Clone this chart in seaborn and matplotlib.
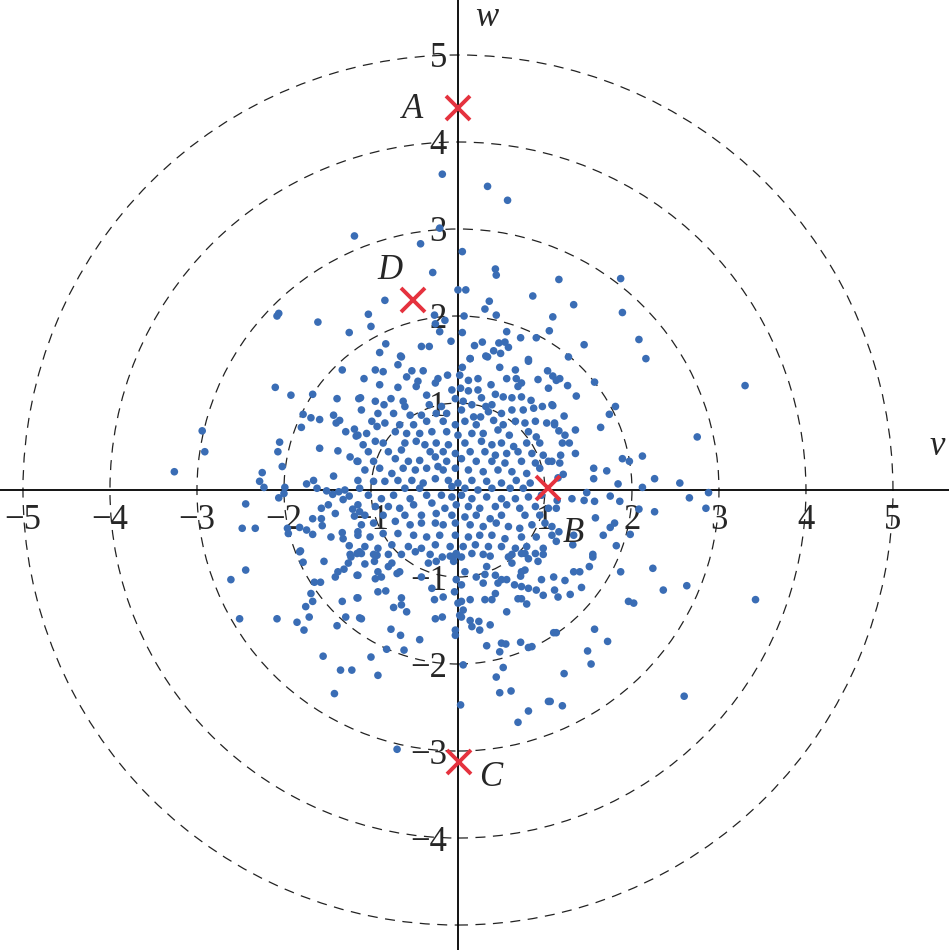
import pandas as pd
import matplotlib
matplotlib.use('Agg')
import matplotlib.pyplot as plt
from matplotlib.patches import Circle
import seaborn as sns

# values, grouped by region (v, w)
pts_top = [
    (-1.19, 2.92), (-2.08, 2.00), (-2.06, 2.03), (-1.61, 1.93), (-1.25, 1.81),
    (-0.18, 3.63), (0.34, 3.49), (0.57, 3.33), (-0.21, 3.01), (-0.43, 2.83),
    (0.05, 2.74), (-0.29, 2.50), (0.43, 2.54), (0.44, 2.47), (0.00, 2.30),
    (0.09, 2.30), (-0.84, 2.18), (0.86, 2.23), (0.36, 2.17), (0.31, 2.08),
    (0.44, 2.01), (-1.03, 2.02), (-0.27, 2.01), (0.07, 2.00), (-1.00, 1.88),
    (-0.26, 1.91), (-0.15, 1.95), (-0.21, 1.82), (0.05, 1.81), (1.09, 1.99),
    (0.56, 1.82), (1.05, 1.83), (-0.08, 1.71), (-0.83, 1.68), (-0.42, 1.65),
    (-0.33, 1.65), (0.19, 1.66), (0.28, 1.70), (0.47, 1.69), (0.54, 1.70),
    (0.58, 1.64), (0.72, 1.75), (0.90, 1.75), (-0.90, 1.58), (-0.66, 1.54),
    (0.41, 1.60), (0.49, 1.57), (0.32, 1.54), (0.14, 1.51), (0.81, 1.50),
    (1.16, 2.42), (1.87, 2.43), (1.33, 2.13), (1.89, 2.04), (1.45, 1.67),
    (2.08, 1.73), (1.27, 1.53), (2.16, 1.51),
]

pts_left = [
    (-1.33, 1.38), (-2.10, 1.18), (-1.92, 1.09), (-1.67, 1.10), (-1.39, 1.05),
    (-1.14, 1.05), (-1.78, 0.87), (-1.69, 0.83), (-1.59, 0.81), (-1.43, 0.86),
    (-1.36, 0.80), (-1.40, 0.77), (-1.80, 0.72), (-1.29, 0.67), (-1.19, 0.70),
    (-1.17, 0.62), (-2.94, 0.68), (-2.91, 0.44), (-2.05, 0.55), (-2.07, 0.44),
    (-1.59, 0.48), (-1.38, 0.45), (-1.24, 0.38), (-1.16, 0.33), (-3.26, 0.21),
    (-2.02, 0.27), (-2.25, 0.20), (-2.28, 0.10), (-2.23, 0.03), (-1.43, 0.16),
    (-1.74, 0.07), (-1.66, 0.11), (-1.62, 0.02), (-1.99, 0.03), (-2.00, -0.04),
    (-2.06, -0.09), (-1.51, -0.01), (-1.44, -0.05), (-1.37, -0.02), (-1.30, 0.00),
    (-1.32, -0.11), (-1.25, -0.07), (-2.44, -0.16), (-1.57, -0.21), (-1.49, -0.17),
    (-1.41, -0.27), (-1.21, -0.22), (-1.19, -0.30), (-1.67, -0.33), (-1.57, -0.33),
    (-1.56, -0.41), (-1.82, -0.43), (-1.74, -0.46), (-1.67, -0.51), (-1.96, -0.44),
    (-1.95, -0.50), (-2.48, -0.44), (-2.33, -0.44), (-1.46, -0.54), (-1.33, -0.49),
    (-1.32, -0.56), (-1.15, -0.48), (-1.25, -0.64), (-1.81, -0.70), (-1.24, -0.74),
    (-1.13, -0.25),
]

pts_core = [
    (-0.65, 1.53), (0.05, 1.41), (0.14, 1.51), (0.34, 1.53), (0.48, 1.41),
    (0.66, 1.38), (0.81, 1.48), (0.92, 1.27), (1.03, 1.37), (-0.95, 1.38),
    (-0.86, 1.36), (-0.69, 1.44), (-0.53, 1.37), (-0.40, 1.37), (-0.23, 1.28),
    (-0.12, 1.32), (0.02, 1.32), (0.12, 1.26), (0.23, 1.28), (0.38, 1.21),
    (0.56, 1.28), (0.67, 1.28), (0.73, 1.23), (0.69, 1.19), (-1.08, 1.28),
    (-0.59, 1.30), (-0.46, 1.25), (-0.48, 1.19), (-0.26, 1.23),
    (-0.90, 1.21), (-0.69, 1.18), (-0.77, 1.05), (-1.12, 1.06), (-0.95, 1.02),
    (-0.85, 0.98), (-0.63, 1.02), (-0.36, 1.09), (-0.07, 1.15), (0.03, 1.17),
    (0.12, 1.14), (0.23, 1.15), (0.27, 1.06), (0.43, 1.10), (0.52, 1.07),
    (0.62, 1.06), (0.73, 1.07), (0.84, 1.03), (0.97, 0.96), (1.08, 0.98),
    (1.04, 1.17), (-0.61, 0.96), (-0.33, 0.98), (-0.19, 0.96), (-0.03, 1.05),
    (0.06, 1.02), (0.16, 0.98), (0.32, 0.96), (0.39, 0.98), (0.62, 0.92),
    (0.75, 0.92), (0.87, 0.94),
    (-1.11, 0.92), (-0.92, 0.88), (-0.74, 0.88), (-0.55, 0.86), (-0.42, 0.86),
    (-0.25, 0.88), (-0.13, 0.88), (0.04, 0.92), (0.18, 0.84), (0.26, 0.84),
    (0.35, 0.90), (0.50, 0.88), (0.66, 0.79), (0.77, 0.77), (0.89, 0.79),
    (1.02, 0.77), (1.11, 0.75), (-0.99, 0.79), (-0.84, 0.77), (-0.67, 0.75),
    (-0.51, 0.75), (-0.36, 0.79), (-0.17, 0.79), (-0.03, 0.75), (0.08, 0.79),
    (0.21, 0.75), (0.41, 0.80), (0.52, 0.75), (-0.72, 0.67), (-0.59, 0.65),
    (-0.44, 0.65), (-0.30, 0.67), (-0.13, 0.67), (0.00, 0.63), (0.16, 0.65),
    (0.29, 0.65), (0.46, 0.69), (0.59, 0.63), (0.81, 0.67), (0.90, 0.61),
    (-1.15, 0.63), (-1.05, 0.65), (-0.93, 0.73),
    (-1.09, 0.52), (-0.95, 0.56), (-0.86, 0.54), (-0.61, 0.54), (-0.48, 0.56),
    (-0.38, 0.52), (-0.25, 0.54), (-0.11, 0.52), (0.08, 0.54), (0.27, 0.56),
    (0.39, 0.52), (0.50, 0.54), (0.64, 0.50), (0.79, 0.54), (0.94, 0.54),
    (-1.03, 0.44), (-0.80, 0.44), (-0.65, 0.46), (-0.32, 0.44), (-0.17, 0.44),
    (-0.03, 0.42), (0.14, 0.44), (0.31, 0.44), (0.43, 0.40), (0.56, 0.42),
    (0.69, 0.44), (0.85, 0.42), (0.98, 0.40), (-1.15, 0.33), (-0.97, 0.33),
    (-0.72, 0.36), (-0.57, 0.33), (-0.44, 0.34), (-0.26, 0.38), (-0.13, 0.33),
    (0.04, 0.36), (0.21, 0.33), (0.39, 0.33), (0.54, 0.31), (0.73, 0.33),
    (0.89, 0.31), (1.04, 0.33),
    (-1.07, 0.23), (-0.90, 0.25), (-0.76, 0.19), (-0.63, 0.25), (-0.49, 0.23),
    (-0.36, 0.25), (-0.23, 0.27), (-0.17, 0.23), (-0.03, 0.25), (0.12, 0.23),
    (0.29, 0.21), (0.46, 0.23), (0.62, 0.21), (0.79, 0.19), (0.94, 0.25),
    (-1.15, 0.11), (-0.97, 0.10), (-0.84, 0.10), (-0.69, 0.11), (-0.53, 0.11),
    (-0.40, 0.08), (-0.26, 0.13), (-0.11, 0.11), (0.00, 0.08), (0.16, 0.11),
    (0.33, 0.10), (0.50, 0.08), (0.67, 0.11), (0.83, 0.08), (-1.13, 0.02),
    (-0.61, 0.02), (-0.44, 0.02), (-0.07, 0.04), (0.08, 0.02), (0.23, 0.00),
    (0.39, 0.02), (0.60, 0.02), (0.75, 0.02),
    (-1.03, -0.06), (-0.88, -0.10), (-0.74, -0.06), (-0.55, -0.10), (-0.36, -0.06),
    (-0.19, -0.06), (-0.07, -0.08), (0.04, -0.06), (0.16, -0.10), (0.33, -0.08),
    (0.50, -0.10), (0.66, -0.10), (0.81, -0.08), (0.96, -0.06), (-1.15, -0.17),
    (-0.95, -0.19), (-0.80, -0.19), (-0.67, -0.21), (-0.51, -0.17), (-0.30, -0.15),
    (-0.15, -0.21), (-0.02, -0.17), (0.12, -0.19), (0.25, -0.21), (0.43, -0.19),
    (0.56, -0.17), (0.71, -0.21), (0.89, -0.19), (1.04, -0.21), (-1.07, -0.29),
    (-0.86, -0.29), (-0.61, -0.29), (-0.42, -0.29), (-0.25, -0.27), (-0.07, -0.29),
    (0.08, -0.31), (0.21, -0.29), (0.37, -0.33), (0.50, -0.29), (0.77, -0.29),
    (0.94, -0.29),
    (-1.11, -0.40), (-0.97, -0.38), (-0.72, -0.36), (-0.55, -0.40), (-0.42, -0.38),
    (-0.26, -0.38), (-0.17, -0.40), (-0.03, -0.38), (0.14, -0.40), (0.29, -0.42),
    (0.44, -0.38), (0.58, -0.42), (0.71, -0.44), (0.85, -0.40), (1.00, -0.38),
    (-1.15, -0.52), (-1.01, -0.54), (-0.86, -0.50), (-0.69, -0.50), (-0.51, -0.52),
    (-0.36, -0.54), (-0.21, -0.52), (-0.03, -0.52), (0.12, -0.54), (0.25, -0.52),
    (0.39, -0.52), (0.54, -0.56), (0.73, -0.54), (0.90, -0.54), (1.08, -0.52),
    (-1.07, -0.65), (-0.92, -0.67), (-0.76, -0.63), (-0.57, -0.65), (-0.42, -0.67),
    (-0.26, -0.63), (-0.09, -0.65), (0.06, -0.65), (0.20, -0.63), (0.35, -0.65),
    (0.50, -0.65), (0.66, -0.67), (0.79, -0.65), (0.98, -0.67), (-1.16, -0.73),
    (-0.97, -0.74), (-0.65, -0.74), (-0.32, -0.74), (-0.02, -0.73), (0.29, -0.74),
    (0.62, -0.74), (0.77, -0.73),
]

pts_right = [
    (3.30, 1.20), (1.09, 1.31), (1.17, 1.28), (1.13, 1.26), (1.57, 1.24),
    (1.26, 1.20), (1.36, 1.08), (1.09, 0.97), (1.81, 0.96), (1.74, 0.87),
    (1.22, 0.85), (1.11, 0.77), (1.64, 0.72), (1.35, 0.69), (1.16, 0.68),
    (1.23, 0.63), (1.20, 0.54), (1.28, 0.54), (2.75, 0.61), (1.35, 0.42),
    (1.89, 0.36), (1.97, 0.33), (2.12, 0.39), (1.18, 0.40), (1.17, 0.31),
    (1.08, 0.33), (1.56, 0.25), (1.71, 0.22), (1.56, 0.13), (1.21, 0.18),
    (1.15, 0.14), (1.84, 0.07), (2.26, 0.13), (2.55, 0.08), (2.12, 0.03),
    (1.48, -0.03), (2.88, -0.03), (2.66, -0.09), (1.31, -0.10), (1.45, -0.12),
    (1.57, -0.13), (1.75, -0.07), (1.86, -0.13), (1.14, -0.12), (1.13, -0.21),
    (2.08, -0.22), (2.26, -0.25), (2.85, -0.21), (1.58, -0.32), (1.80, -0.38),
    (1.75, -0.43), (1.08, -0.42), (1.16, -0.48), (1.33, -0.52), (1.67, -0.52),
    (1.98, -0.51), (1.32, -0.63), (1.13, -0.59), (1.82, -0.64), (1.55, -0.74),
]

pts_bottom = [
    (-1.82, -0.71), (-1.78, -0.83), (-1.54, -0.82), (-1.23, -0.77), (-1.26, -0.84),
    (-1.13, -0.71), (-1.31, -0.91), (-1.38, -0.94), (-1.41, -1.00), (-1.16, -0.98),
    (-1.65, -1.06), (-1.58, -1.06), (-1.69, -1.19), (-1.67, -1.28), (-1.75, -1.34),
    (-1.71, -1.46), (-1.85, -1.52), (-1.77, -1.61), (-2.08, -1.48), (-2.51, -1.48),
    (-2.61, -1.03), (-2.44, -0.92), (-1.33, -1.28), (-1.16, -1.24), (-1.29, -1.46),
    (-1.13, -1.47), (-1.39, -1.56), (-1.55, -1.91), (-1.35, -2.07), (-1.22, -2.07),
    (-1.42, -2.34),
    (-1.11, -0.73), (-0.93, -0.75), (-0.80, -0.74), (-1.07, -0.85), (-0.96, -0.82),
    (-0.80, -0.88), (-0.76, -0.84), (-0.92, -0.94), (-0.95, -1.02), (-0.88, -1.00),
    (-0.70, -0.96), (-0.67, -0.94), (-1.15, -0.98), (-0.49, -0.71), (-0.34, -0.84),
    (-0.25, -0.82), (-0.18, -0.77), (-0.09, -0.76), (-0.03, -0.75), (-0.05, -0.82),
    (0.04, -0.77), (0.16, -0.73), (0.37, -0.76), (0.58, -0.77), (0.73, -0.73),
    (0.89, -0.73), (0.98, -0.74), (0.81, -0.79), (0.33, -0.88), (0.62, -0.84),
    (0.73, -0.94), (0.77, -0.92), (0.92, -0.82), (0.08, -0.94), (0.21, -1.00),
    (0.31, -0.97), (0.43, -0.98), (0.50, -1.03), (0.46, -1.07), (0.56, -1.03),
    (0.72, -0.99), (-0.02, -1.03), (0.04, -1.09), (0.29, -1.07), (0.65, -1.09),
    (0.73, -1.11), (0.81, -1.13), (0.90, -1.15), (0.96, -1.03), (0.98, -1.21),
    (-0.42, -1.00), (-0.30, -1.13), (-0.92, -1.17), (-0.83, -1.16), (-1.15, -1.24),
    (-0.65, -1.24), (-0.65, -1.32), (-0.74, -1.35), (-0.59, -1.40), (-0.27, -1.26),
    (-0.17, -1.23), (-0.04, -1.17), (0.14, -1.26), (0.31, -1.26), (0.39, -1.26),
    (0.43, -1.19), (0.69, -1.25), (0.73, -1.25), (0.79, -1.31), (0.56, -1.40),
    (0.00, -1.30), (0.04, -1.28), (0.06, -1.38), (0.02, -1.44), (0.04, -1.46),
    (-1.11, -1.48), (-0.26, -1.48), (-0.18, -1.46), (0.14, -1.50), (0.24, -1.51),
    (0.16, -1.57), (0.25, -1.61), (0.37, -1.55), (-0.03, -1.61), (-0.03, -1.67),
    (-0.77, -1.60), (-0.66, -1.67), (-0.44, -1.72), (-0.82, -1.83), (-0.62, -1.84),
    (-1.00, -1.92), (0.33, -1.79), (0.50, -1.76), (0.55, -1.77), (0.48, -1.86),
    (0.72, -1.75), (0.81, -1.81), (0.85, -1.80), (1.10, -1.64), (0.06, -2.01),
    (0.52, -2.04), (0.44, -2.15), (0.48, -2.33), (0.61, -2.31), (-0.92, -2.13),
    (0.03, -2.47), (1.04, -2.43), (0.81, -2.54), (0.69, -2.67), (-0.70, -2.98),
    (1.55, -0.77), (1.51, -0.88), (1.40, -0.94), (1.33, -0.94), (1.10, -1.00),
    (1.23, -1.04), (1.11, -1.15), (1.15, -1.23), (1.29, -1.20), (1.42, -1.12),
    (1.87, -0.94), (2.24, -0.90), (2.36, -1.15), (2.63, -1.10), (1.96, -1.28),
    (2.02, -1.30), (3.42, -1.26), (1.13, -1.64), (1.57, -1.60), (1.72, -1.74),
    (1.49, -1.85), (1.53, -2.00), (1.22, -2.11), (1.06, -2.43), (1.20, -2.48),
    (2.60, -2.37),
]

ring_radii = [1, 2, 3, 4, 5]
x_ticks = [-5, -4, -3, -2, -1, 1, 2, 3, 4, 5]
y_ticks = [-4, -3, -2, -1, 1, 2, 3, 4, 5]

marked_names = ['A', 'B', 'C', 'D']
marked_v = [0.00, 1.03, 0.01, -0.52]
marked_w = [4.39, 0.02, -3.13, 2.18]
label_v = [-0.52, 1.33, 0.37, -0.78]
label_w = [4.37, -0.50, -3.31, 2.52]

all_pts = pts_top + pts_left + pts_core + pts_right + pts_bottom
df = pd.DataFrame(all_pts, columns=['v', 'w'])

sns.set_style('white')
# Times-like serif (STIX ships with matplotlib)
plt.rcParams['font.family'] = 'serif'
plt.rcParams['font.serif'] = ['Liberation Serif', 'STIXGeneral', 'DejaVu Serif']


def fmt(t):
    return f'\u2212{abs(t)}' if t < 0 else str(t)


fig = plt.figure(figsize=(9.49, 9.50), dpi=100)
ax = fig.add_axes([0, 0, 1, 1])
ax.set_xlim(-5.264, 5.644)
ax.set_ylim(-5.287, 5.632)

# dashed circles
for r in ring_radii:
    ax.add_patch(Circle((0, 0), r, fill=False, edgecolor='#222222', linewidth=0.9,
                        linestyle=(0, (8, 6)), zorder=1))

sns.scatterplot(data=df, x='v', y='w', ax=ax, s=30, color='#3a6db5',
                edgecolor='none', linewidth=0, zorder=3, legend=False)

# red crosses and their letters
ax.plot(marked_v, marked_w, linestyle='none', marker='x', markersize=17,
        markeredgewidth=2.8, color='#e5323e', zorder=5)
for name, lv, lw in zip(marked_names, label_v, label_w):
    ax.text(lv, lw, name, fontsize=25, style='italic', ha='center', va='center', zorder=6)

# axes through origin
for side in ['top', 'right']:
    ax.spines[side].set_visible(False)
for side in ['left', 'bottom']:
    ax.spines[side].set_position(('data', 0))
    ax.spines[side].set_linewidth(1.3)
    ax.spines[side].set_color('black')

ax.set_xticks(x_ticks)
ax.set_yticks(y_ticks)
ax.set_xticklabels([fmt(t) for t in x_ticks])
ax.set_yticklabels([fmt(t) for t in y_ticks])
ax.tick_params(axis='x', direction='in', length=6, width=1, pad=10, labelsize=25)
ax.tick_params(axis='y', direction='in', length=6, width=1, pad=8, labelsize=25)
ax.set_xlabel('')
ax.set_ylabel('')

ax.text(5.51, 0.40, 'v', fontsize=25, style='italic', ha='center', va='baseline')
ax.text(0.33, 5.33, 'w', fontsize=25, style='italic', ha='center', va='baseline')

fig.savefig('out.png', dpi=100)
